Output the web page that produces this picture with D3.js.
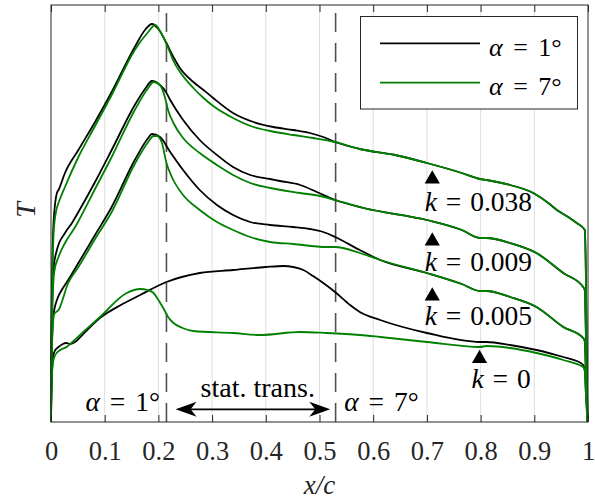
<!DOCTYPE html>
<html><head><meta charset="utf-8">
<script src="https://cdn.jsdelivr.net/npm/d3@7"></script>
<style>
body{margin:0;background:#fff}
svg{display:block}
</style>
</head><body>
<svg id="c" width="595" height="501"></svg>
<script>
// ---------- data ----------
const xTicks = [0,0.1,0.2,0.3,0.4,0.5,0.6,0.7,0.8,0.9,1];
const xTickLabels = ["0","0.1","0.2","0.3","0.4","0.5","0.6","0.7","0.8","0.9","1"];
const gridX = [0.1,0.2,0.3,0.4,0.5,0.6,0.7,0.8,0.9];
const transitionX = [0.215, 0.530];   // alpha = 1 deg, alpha = 7 deg

const k038_a1 = [[0,0],[0.001,1.0],[0.004,1.9],[0.008,2.20],[0.011,2.29],[0.014,2.32],[0.026,2.49],[0.051,2.72],[0.082,3.00],[0.113,3.30],[0.156,3.75],[0.175,3.92],[0.188,3.98],[0.200,3.93],[0.214,3.80],[0.228,3.65],[0.240,3.54],[0.265,3.40],[0.284,3.32],[0.302,3.24],[0.339,3.09],[0.377,3.00],[0.414,2.95],[0.451,2.92],[0.482,2.89],[0.507,2.85],[0.529,2.80],[0.575,2.73],[0.641,2.67],[0.700,2.59],[0.765,2.49],[0.799,2.43],[0.811,2.42],[0.855,2.37],[0.898,2.29],[0.926,2.19],[0.942,2.12],[0.963,2.05],[0.979,1.99],[0.994,1.92],[0.996,1.5],[0.998,0.5],[0.999,0]];
const k038_a7 = [[0,0],[0.001,0.9],[0.005,1.9],[0.010,2.12],[0.014,2.19],[0.026,2.35],[0.051,2.65],[0.082,2.96],[0.113,3.27],[0.156,3.72],[0.181,3.90],[0.194,3.97],[0.203,3.91],[0.209,3.85],[0.215,3.78],[0.222,3.69],[0.228,3.61],[0.243,3.48],[0.265,3.34],[0.284,3.24],[0.302,3.16],[0.339,3.04],[0.377,2.95],[0.408,2.91],[0.451,2.87],[0.488,2.84],[0.529,2.80],[0.575,2.73],[0.641,2.67],[0.700,2.59],[0.765,2.49],[0.799,2.43],[0.811,2.42],[0.855,2.37],[0.898,2.29],[0.926,2.19],[0.942,2.12],[0.963,2.05],[0.979,1.99],[0.994,1.92],[0.996,1.5],[0.998,0.5],[0.999,0]];
const k009_a1 = [[0,0],[0.001,0.8],[0.005,1.55],[0.011,1.72],[0.026,1.89],[0.039,1.99],[0.051,2.10],[0.082,2.40],[0.113,2.72],[0.156,3.17],[0.175,3.33],[0.188,3.41],[0.203,3.37],[0.214,3.30],[0.222,3.22],[0.246,3.02],[0.277,2.82],[0.309,2.67],[0.339,2.55],[0.371,2.47],[0.408,2.43],[0.426,2.41],[0.464,2.37],[0.495,2.30],[0.529,2.22],[0.582,2.14],[0.700,2.02],[0.765,1.92],[0.799,1.84],[0.811,1.84],[0.855,1.79],[0.904,1.69],[0.954,1.49],[0.991,1.35],[0.994,1.32],[0.996,0.9],[0.998,0.3],[0.999,0]];
const k009_a7 = [[0,0],[0.001,0.8],[0.006,1.5],[0.014,1.65],[0.026,1.79],[0.045,1.95],[0.082,2.33],[0.113,2.65],[0.156,3.12],[0.181,3.34],[0.191,3.40],[0.203,3.37],[0.212,3.25],[0.218,3.12],[0.228,2.99],[0.246,2.84],[0.277,2.69],[0.309,2.57],[0.339,2.47],[0.371,2.39],[0.408,2.34],[0.464,2.29],[0.501,2.26],[0.529,2.22],[0.582,2.14],[0.700,2.02],[0.765,1.92],[0.799,1.84],[0.811,1.84],[0.855,1.79],[0.904,1.69],[0.954,1.49],[0.991,1.35],[0.994,1.32],[0.996,0.9],[0.998,0.3],[0.999,0]];
const k005_a1 = [[0,0],[0.001,0.6],[0.004,1.05],[0.006,1.12],[0.011,1.22],[0.020,1.32],[0.032,1.42],[0.051,1.59],[0.082,1.87],[0.113,2.15],[0.156,2.62],[0.181,2.84],[0.188,2.88],[0.203,2.85],[0.222,2.70],[0.246,2.52],[0.277,2.32],[0.309,2.17],[0.339,2.07],[0.371,2.00],[0.408,1.97],[0.451,1.95],[0.482,1.93],[0.507,1.90],[0.529,1.85],[0.575,1.72],[0.613,1.62],[0.700,1.49],[0.765,1.38],[0.799,1.31],[0.811,1.31],[0.855,1.25],[0.904,1.15],[0.954,0.95],[0.991,0.84],[0.994,0.81],[0.996,0.5],[0.998,0.15],[0.999,0]];
const k005_a7 = [[0,0],[0.001,0.6],[0.004,1.0],[0.006,1.08],[0.014,1.12],[0.032,1.39],[0.051,1.55],[0.082,1.83],[0.113,2.10],[0.156,2.58],[0.181,2.80],[0.191,2.86],[0.197,2.86],[0.206,2.80],[0.215,2.59],[0.225,2.45],[0.246,2.27],[0.277,2.12],[0.309,2.00],[0.339,1.92],[0.371,1.85],[0.408,1.80],[0.451,1.78],[0.513,1.75],[0.529,1.75],[0.575,1.69],[0.613,1.62],[0.700,1.49],[0.765,1.38],[0.799,1.31],[0.811,1.31],[0.855,1.25],[0.904,1.15],[0.954,0.95],[0.991,0.84],[0.994,0.81],[0.996,0.5],[0.998,0.15],[0.999,0]];
const k0_a1 = [[0,0],[0.001,0.4],[0.004,0.66],[0.008,0.72],[0.014,0.75],[0.022,0.78],[0.028,0.79],[0.036,0.78],[0.045,0.80],[0.060,0.88],[0.091,1.04],[0.130,1.17],[0.166,1.27],[0.215,1.40],[0.277,1.49],[0.339,1.52],[0.400,1.55],[0.433,1.56],[0.451,1.55],[0.470,1.52],[0.488,1.46],[0.507,1.39],[0.529,1.30],[0.557,1.17],[0.575,1.10],[0.613,1.02],[0.700,0.89],[0.799,0.80],[0.811,0.80],[0.855,0.77],[0.904,0.72],[0.954,0.65],[0.979,0.61],[0.991,0.57],[0.994,0.52],[0.996,0.3],[0.998,0.1],[0.999,0]];
const k0_a7 = [[0,0],[0.001,0.4],[0.004,0.6],[0.007,0.66],[0.017,0.72],[0.029,0.75],[0.040,0.80],[0.060,0.90],[0.091,1.05],[0.141,1.29],[0.166,1.33],[0.180,1.32],[0.191,1.29],[0.200,1.22],[0.209,1.14],[0.218,1.05],[0.228,0.99],[0.245,0.94],[0.265,0.91],[0.339,0.89],[0.389,0.87],[0.464,0.90],[0.513,0.89],[0.575,0.87],[0.613,0.85],[0.700,0.80],[0.799,0.75],[0.811,0.76],[0.855,0.74],[0.904,0.69],[0.954,0.62],[0.991,0.55],[0.994,0.51],[0.996,0.3],[0.998,0.1],[0.999,0]];

const seriesA1 = [k038_a1, k009_a1, k005_a1, k0_a1];
const seriesA7 = [k038_a7, k009_a7, k005_a7, k0_a7];
const legendLabels = ["1°","7°"];
const colors = ["#000000","#008000"];

const kLabels = ["0.038","0.009","0.005","0"];
const kMarkerX = [0.710,0.710,0.710,0.798];
const kMarkerT = [2.43,1.81,1.26,0.635];
const kLabelX  = [0.696,0.696,0.696,0.783];
const kLabelT  = [2.11,1.51,0.97,0.34];

// ---------- font ----------
const FONT = '"Liberation Serif", "Times New Roman", Times, "DejaVu Serif", serif';

// ---------- scales ----------
const svg = d3.select("#c").attr("font-family", FONT);
const x = d3.scaleLinear().domain([0,1]).range([51,588]);
const y = d3.scaleLinear().domain([0,4.17]).range([422,5]);
const axisColor = "#262626";
const txt = (sel, size) => sel.style("font-family", FONT).style("font-size", size + "px");

// grid
svg.append("g").selectAll("line").data(gridX).join("line")
  .attr("x1",d=>x(d)).attr("x2",d=>x(d)).attr("y1",y(0)).attr("y2",y(4.17))
  .attr("stroke","#dfdfdf").attr("stroke-width",1);

// dashed transition lines
svg.append("g").selectAll("line").data(transitionX).join("line")
  .attr("x1",d=>x(d)).attr("x2",d=>x(d)).attr("y1",y(0)).attr("y2",y(4.17))
  .attr("stroke","#505050").attr("stroke-width",1.6).attr("stroke-dasharray","19,11");

// curves
const line = d3.line().x(d=>x(d[0])).y(d=>y(d[1])).curve(d3.curveMonotoneX);
const gC = svg.append("g").attr("fill","none").attr("stroke-width",1.8).attr("stroke-linejoin","round");
gC.selectAll("path.a1").data(seriesA1).join("path").attr("class","a1").attr("d",line).attr("stroke",colors[0]);
gC.selectAll("path.a7").data(seriesA7).join("path").attr("class","a7").attr("d",line).attr("stroke",colors[1]);

// axes (ticks inside, top & bottom)
const axB = svg.append("g").attr("transform",`translate(0,${y(0)})`)
  .call(d3.axisBottom(x).tickValues(xTicks).tickSize(-7).tickSizeOuter(0).tickFormat((d,i)=>xTickLabels[i]));
axB.attr("font-family", FONT);
axB.select(".domain").remove();
axB.selectAll("line").attr("stroke",axisColor);
txt(axB.selectAll("text").attr("y",38).attr("dy",0).attr("fill",axisColor), 26.5);
const axT = svg.append("g").attr("transform",`translate(0,${y(4.17)})`)
  .call(d3.axisTop(x).tickValues(xTicks).tickSize(-7).tickSizeOuter(0).tickFormat(""));
axT.select(".domain").remove();
axT.selectAll("line").attr("stroke",axisColor);
svg.append("rect").attr("x",x(0)).attr("y",y(4.17)).attr("width",x(1)-x(0)).attr("height",y(0)-y(4.17))
  .attr("fill","none").attr("stroke",axisColor).attr("stroke-width",1);

// axis labels
txt(svg.append("text").attr("x",(x(0)+x(1))/2).attr("y",494).attr("text-anchor","middle")
  .attr("fill",axisColor).style("font-style","italic").text("x/c"), 27);
txt(svg.append("text").attr("transform",`translate(35,${y(2.12)}) rotate(-90)`).attr("text-anchor","middle")
  .attr("fill",axisColor).style("font-style","italic").text("T"), 28);

// k markers and labels
svg.append("g").selectAll("path").data(kMarkerX).join("path")
  .attr("transform",(d,i)=>`translate(${x(d)},${y(kMarkerT[i])})`)
  .attr("d",d3.symbol(d3.symbolTriangle,100)).attr("fill","#000");
const kt = txt(svg.append("g").selectAll("text").data(kLabels).join("text")
  .attr("x",(d,i)=>x(kLabelX[i])).attr("y",(d,i)=>y(kLabelT[i])).attr("word-spacing",2), 27.5);
kt.append("tspan").style("font-style","italic").text("k");
kt.append("tspan").text(d=>" = "+d);

// alpha labels near transition lines
const alphaAnn = [{lab:"1°", x:0.203, t:0.11, anchor:"end"},{lab:"7°", x:0.546, t:0.115, anchor:"start"}];
const at = txt(svg.append("g").selectAll("text").data(alphaAnn).join("text")
  .attr("x",d=>x(d.x)).attr("y",d=>y(d.t)).attr("text-anchor",d=>d.anchor).attr("word-spacing",3), 27.5);
at.append("tspan").style("font-style","italic").text("α");
at.append("tspan").text(d=>" = "+d.lab);

// stat. trans. arrow
const arrowX = [0.232, 0.520], arrowT = 0.127;
svg.append("line").attr("x1",x(arrowX[0])+8).attr("x2",x(arrowX[1])-8).attr("y1",y(arrowT)).attr("y2",y(arrowT))
  .attr("stroke","#000").attr("stroke-width",1.8);
const head = "M0,0 L21,-7.5 L15,0 L21,7.5 Z";
svg.append("path").attr("d",head).attr("transform",`translate(${x(arrowX[0])},${y(arrowT)})`).attr("fill","#000");
svg.append("path").attr("d",head).attr("transform",`translate(${x(arrowX[1])},${y(arrowT)}) rotate(180)`).attr("fill","#000");
txt(svg.append("text").attr("x",x(0.385)).attr("y",y(0.25)).attr("text-anchor","middle").text("stat. trans."), 28);

// legend
const lg = svg.append("g");
lg.append("rect").attr("x",360.5).attr("y",16.5).attr("width",217).attr("height",92.5)
  .attr("fill","#fff").attr("stroke",axisColor).attr("stroke-width",1);
legendLabels.forEach((lab,i)=>{
  const yy = 43.3 + i*39.4;
  lg.append("line").attr("x1",380).attr("x2",480).attr("y1",yy).attr("y2",yy).attr("stroke",colors[i]).attr("stroke-width",1.8);
  const t = txt(lg.append("text").attr("x",489).attr("y",yy+12.4).attr("word-spacing",4), 26);
  t.append("tspan").style("font-style","italic").text("α");
  t.append("tspan").text(" = "+lab);
});
</script>
</body></html>
